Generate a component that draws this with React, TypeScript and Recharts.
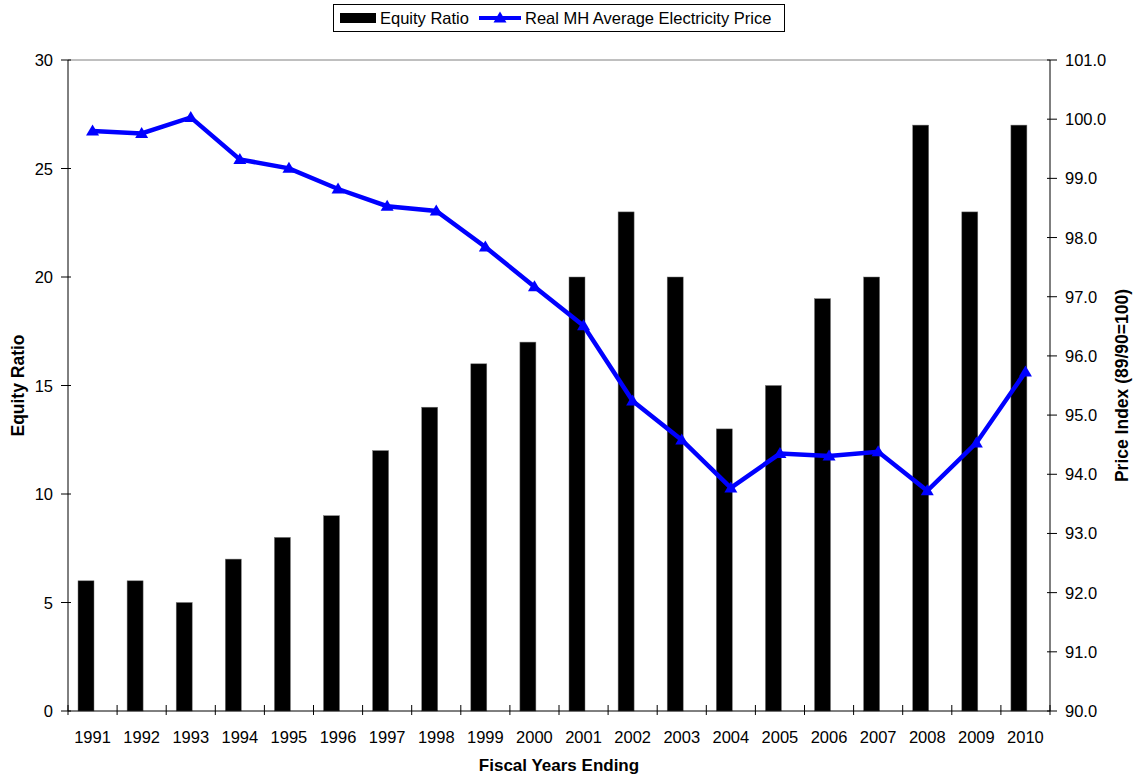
import React from 'react';
import { ComposedChart, Bar, Line, XAxis, YAxis, Legend, ReferenceLine } from 'recharts';

const years = ['1991','1992','1993','1994','1995','1996','1997','1998','1999','2000','2001','2002','2003','2004','2005','2006','2007','2008','2009','2010'];
const equityRatio = [6,6,5,7,8,9,12,14,16,17,20,23,20,13,15,19,20,27,23,27];
const priceIndex = [99.80,99.76,100.03,99.32,99.17,98.82,98.53,98.45,97.84,97.17,96.51,95.24,94.58,93.77,94.35,94.31,94.38,93.72,94.53,95.73];
const leftTicks = [0,5,10,15,20,25,30];
const rightTicks = [90,91,92,93,94,95,96,97,98,99,100,101];

const data = years.map((y, i) => ({ year: y, equity: equityRatio[i], price: priceIndex[i] }));

const W = 1133;
const H = 774;
const LEFT_W = 68;
const RIGHT_W = 83;
const TOP = 60;
const XAXIS_H = 63;
const PLOT_W = W - LEFT_W - RIGHT_W;
const BAND = PLOT_W / years.length;
const FONT = '"Liberation Sans", Arial, sans-serif';
const BLUE = '#0000FF';

const XTick = (props: any) => {
  const { x, y, payload, index } = props;
  return (
    <g>
      <line x1={x - BAND / 2} x2={x - BAND / 2} y1={y - 6} y2={y + 4} stroke="#000" strokeWidth={1} />
      {index === years.length - 1 && (
        <line x1={x + BAND / 2} x2={x + BAND / 2} y1={y - 6} y2={y + 4} stroke="#000" strokeWidth={1} />
      )}
      <text x={x} y={y + 32} textAnchor="middle" fontSize={16.5} fontFamily={FONT} fill="#000">{payload.value}</text>
    </g>
  );
};

const LeftTick = (props: any) => {
  const { x, y, payload } = props;
  return (
    <g>
      <line x1={x - 5} x2={x + 5} y1={y} y2={y} stroke="#000" strokeWidth={1} />
      <text x={x - 13} y={y + 6} textAnchor="end" fontSize={16.5} fontFamily={FONT} fill="#000">{payload.value}</text>
    </g>
  );
};

const RightTick = (props: any) => {
  const { x, y, payload } = props;
  return (
    <g>
      <line x1={x - 5} x2={x + 5} y1={y} y2={y} stroke="#000" strokeWidth={1} />
      <text x={x + 13} y={y + 6} textAnchor="start" fontSize={16.5} fontFamily={FONT} fill="#000">{Number(payload.value).toFixed(1)}</text>
    </g>
  );
};

const Triangle = (props: any) => {
  const { cx, cy } = props;
  if (cx == null || cy == null) return null;
  return <polygon points={`${cx},${cy - 6.5} ${cx - 6.5},${cy + 4.5} ${cx + 6.5},${cy + 4.5}`} fill={BLUE} />;
};

const OffsetBar = (props: any) => {
  const { x, y, width, height } = props;
  return <rect x={x - 7} y={y} width={width} height={height} fill="#000" stroke="#777" strokeWidth={0.5} />;
};

const LegendBox = () => {
  const boxW = 452;
  const left = LEFT_W + PLOT_W / 2 - boxW / 2;
  return (
    <div style={{ height: TOP - 4, position: 'relative', width: W }}>
      <div
        style={{
          position: 'absolute',
          left,
          top: 0,
          width: boxW,
          height: 28,
          border: '1px solid #000',
          boxSizing: 'border-box',
          display: 'flex',
          alignItems: 'center',
          fontFamily: FONT,
          fontSize: 16.5,
          color: '#000',
          whiteSpace: 'nowrap',
        }}
      >
        <svg width={36} height={12} style={{ marginLeft: 6 }}>
          <rect x={0} y={1} width={36} height={10} fill="#000" />
        </svg>
        <span style={{ marginLeft: 4 }}>Equity Ratio</span>
        <svg width={42} height={14} style={{ marginLeft: 10 }}>
          <line x1={0} x2={42} y1={7} y2={7} stroke={BLUE} strokeWidth={4} />
          <polygon points="21,0.5 14.5,11.5 27.5,11.5" fill={BLUE} />
        </svg>
        <span style={{ marginLeft: 4 }}>Real MH Average Electricity Price</span>
      </div>
    </div>
  );
};

const LeftLabel = (props: any) => {
  const vb = props.viewBox || {};
  const cx = 18;
  const cy = vb.y + vb.height / 2;
  return (
    <text x={cx} y={cy} transform={`rotate(-90 ${cx} ${cy})`} textAnchor="middle" dominantBaseline="central" fontSize={17.5} fontWeight="bold" fontFamily={FONT} fill="#000">
      Equity Ratio
    </text>
  );
};

const RightLabel = (props: any) => {
  const vb = props.viewBox || {};
  const cx = vb.x + vb.width - 11;
  const cy = vb.y + vb.height / 2;
  return (
    <text x={cx} y={cy} transform={`rotate(-90 ${cx} ${cy})`} textAnchor="middle" dominantBaseline="central" fontSize={17.5} fontWeight="bold" fontFamily={FONT} fill="#000">
      Price Index (89/90=100)
    </text>
  );
};

const BottomLabel = (props: any) => {
  const vb = props.viewBox || {};
  const cx = vb.x + vb.width / 2;
  const cy = vb.y + 54;
  return (
    <text x={cx} y={cy} textAnchor="middle" dominantBaseline="central" fontSize={17} fontWeight="bold" fontFamily={FONT} fill="#000">
      Fiscal Years Ending
    </text>
  );
};

export default function App() {
  return (
    <div style={{ position: 'absolute', left: 0, top: 0, width: W, height: H, background: '#fff' }}>
      <ComposedChart width={W} height={H} data={data} margin={{ top: 4, right: 0, bottom: 0, left: 0 }}>
        <Legend verticalAlign="top" align="left" content={<LegendBox />} wrapperStyle={{ left: 0, top: 4, width: W }} />
        <XAxis
          dataKey="year"
          xAxisId="x"
          height={XAXIS_H}
          tickSize={0}
          tickMargin={0}
          tickLine={false}
          axisLine={{ stroke: '#000' }}
          tick={<XTick />}
          interval={0}
          label={<BottomLabel />}
        />
        <YAxis
          yAxisId="left"
          orientation="left"
          width={LEFT_W}
          domain={[0, 30]}
          ticks={leftTicks}
          tickSize={0}
          tickLine={false}
          axisLine={{ stroke: '#000' }}
          tick={<LeftTick />}
          interval={0}
          label={<LeftLabel />}
        />
        <YAxis
          yAxisId="right"
          orientation="right"
          width={RIGHT_W}
          domain={[90, 101]}
          ticks={rightTicks}
          tickSize={0}
          tickLine={false}
          axisLine={{ stroke: '#000' }}
          tick={<RightTick />}
          interval={0}
          label={<RightLabel />}
        />
        <ReferenceLine yAxisId="left" xAxisId="x" y={30} stroke="#808080" strokeWidth={1} />
        <Bar
          dataKey="equity"
          xAxisId="x"
          yAxisId="left"
          barSize={16}
          fill="#000"
          shape={<OffsetBar />}
          isAnimationActive={false}
        />
        <Line
          dataKey="price"
          xAxisId="x"
          yAxisId="right"
          stroke={BLUE}
          strokeWidth={4.5}
          dot={<Triangle />}
          activeDot={false}
          isAnimationActive={false}
          legendType="none"
        />
      </ComposedChart>
    </div>
  );
}
